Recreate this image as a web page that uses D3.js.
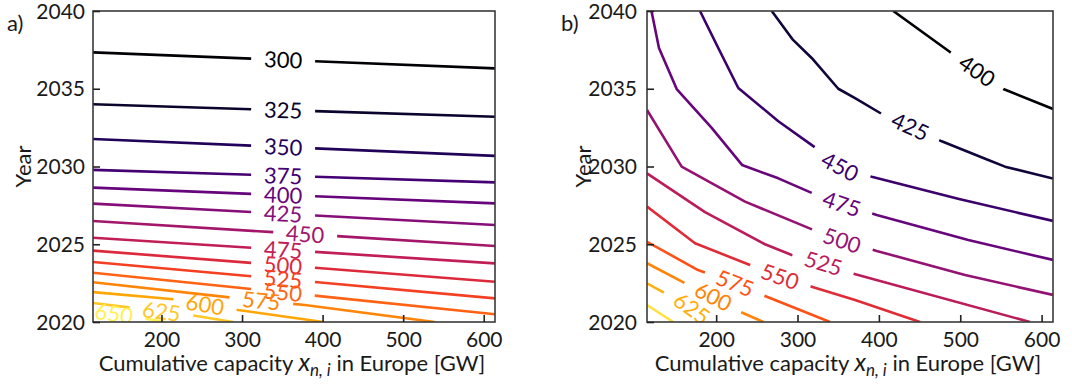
<!DOCTYPE html>
<html><head><meta charset="utf-8">
<script src="https://cdn.jsdelivr.net/npm/d3@7"></script>
<style>
html,body{margin:0;padding:0;background:#fff;}
svg{display:block;font-family:Lato,"Open Sans",sans-serif;}
</style></head><body>
<svg id="chart" width="1072" height="385"></svg>
<script>
// ---------------- data ----------------
const xDomain = [115, 614];
const yDomain = [2020, 2040];
const xTickValues = [200, 300, 400, 500, 600];
const yTickValues = [2020, 2025, 2030, 2035, 2040];
const yTitle = "Year";
const panelTags = ["a)", "b)"];

// Panel a: contour levels, their polylines [GW, year] and label anchors
const levelsA = [300, 325, 350, 375, 400, 425, 450, 475, 500, 525, 550, 575, 600, 625, 650];
const linesA = [
  [[115, 2037.34], [614, 2036.31]],
  [[115, 2034.00], [614, 2033.20]],
  [[115, 2031.77], [614, 2030.68]],
  [[115, 2029.78], [614, 2028.98]],
  [[115, 2028.64], [614, 2027.63]],
  [[115, 2027.61], [614, 2026.24]],
  [[115, 2026.50], [614, 2024.89]],
  [[115, 2025.42], [614, 2023.77]],
  [[115, 2024.59], [614, 2022.59]],
  [[115, 2023.86], [614, 2021.52]],
  [[115, 2023.17], [614, 2020.50]],
  [[115, 2022.56], [295, 2021.52], [378, 2021.09], [539, 2020.0]],
  [[115, 2021.92], [214.7, 2021.46], [295, 2020.77], [401, 2020.0]],
  [[115, 2021.22], [158.8, 2020.94], [241.6, 2020.40], [289, 2020.0]],
  [[115, 2020.75], [205, 2020.0]]
];
const labelsA = [
  [351, 2036.85], [351, 2033.65], [351, 2031.30], [351, 2029.45], [351, 2028.20],
  [351, 2027.00], [378.5, 2025.75], [351, 2024.65], [351, 2023.75], [351, 2022.80],
  [351, 2022.05], [324, 2021.40], [254, 2021.10], [200, 2020.67], [141, 2020.53]
];

// Panel b
const levelsB = [400, 425, 450, 475, 500, 525, 550, 575, 600, 625, 650];
const linesB = [
  [[417.7, 2040], [487.4, 2037.36], [553, 2034.98], [614, 2033.70]],
  [[268.3, 2040], [294.5, 2038.14], [317.4, 2036.98], [350.1, 2035.0], [370.7, 2034.4], [403.5, 2033.38],
   [438.5, 2032.57], [477.2, 2031.62], [534.5, 2030.42], [555, 2029.99], [614, 2029.23]],
  [[180.1, 2040], [202.6, 2037.62], [227.2, 2035.05], [276.4, 2032.91], [325.5, 2031.08], [352.2, 2029.99],
   [391.2, 2029.34], [498.5, 2027.91], [614, 2026.5]],
  [[120.5, 2040], [129.7, 2037.62], [151.5, 2034.98], [194.5, 2032.48], [231.8, 2030.1], [276.4, 2029.24],
   [319.4, 2028.26], [354.3, 2027.59], [397.3, 2026.88], [509.9, 2025.27], [614, 2023.99]],
  [[115, 2033.63], [157.6, 2029.99], [235.5, 2027.74], [319.4, 2025.92], [354.7, 2025.24], [397.3, 2024.57],
   [505.9, 2023.02], [614, 2021.74]],
  [[115, 2029.56], [186.3, 2027.07], [260, 2025.0], [292.9, 2024.31], [331.7, 2023.77], [367, 2023.13], [585.7, 2020.0]],
  [[115, 2027.42], [174, 2025.06], [241.6, 2023.67], [278.5, 2022.91], [317.4, 2022.27], [370.7, 2021.41], [450.5, 2020.0]],
  [[115, 2025.16], [177.7, 2023.34], [223.2, 2022.49], [260, 2021.67], [339.9, 2020.0]],
  [[115, 2023.78], [161.7, 2022.49], [196.5, 2021.63], [229.3, 2020.66], [258, 2020.0]],
  [[115, 2022.49], [137.1, 2021.85], [170, 2020.88], [186.3, 2020.0]],
  [[115, 2021.09], [147.3, 2020.0]]
];
const labelsB = [
  [520.2, 2036.12], [438.5, 2032.57], [352.2, 2029.99], [354.3, 2027.59], [354.7, 2025.24],
  [331.7, 2023.77], [278.5, 2022.91], [223.2, 2022.49], [196.5, 2021.63], [170, 2020.88], null
];

// ---------------- layout / style ----------------
const panels = [
  {box: {left: 93, right: 495, top: 11, bottom: 322}, levels: levelsA, lines: linesA, labels: labelsA,
   colorDomain: [300, 675], tag: panelTags[0], tagX: 7, yTitleX: 23, yLabPad: 8},
  {box: {left: 647, right: 1053, top: 11, bottom: 322}, levels: levelsB, lines: linesB, labels: labelsB,
   colorDomain: [400, 675], tag: panelTags[1], tagX: 561, yTitleX: 583, yLabPad: 10}
];
const GAP = 64;
const FONT = "Lato, 'Open Sans', sans-serif";
const svg = d3.select("#chart");

function vivid(c) {
  const h = d3.hsl(c);
  h.s = Math.min(1, h.s * 1.3);
  return h.formatHex();
}

function splitAtLabel(pts, lp, gap) {
  const cum = [0];
  for (let i = 1; i < pts.length; i++) {
    cum.push(cum[i - 1] + Math.hypot(pts[i][0] - pts[i - 1][0], pts[i][1] - pts[i - 1][1]));
  }
  const L = cum[cum.length - 1];
  let best = {d: Infinity};
  for (let i = 0; i < pts.length - 1; i++) {
    const [x1, y1] = pts[i], [x2, y2] = pts[i + 1];
    const dx = x2 - x1, dy = y2 - y1, len2 = dx * dx + dy * dy;
    let t = len2 ? ((lp[0] - x1) * dx + (lp[1] - y1) * dy) / len2 : 0;
    t = Math.max(0, Math.min(1, t));
    const px = x1 + t * dx, py = y1 + t * dy;
    const d = Math.hypot(px - lp[0], py - lp[1]);
    if (d < best.d) best = {d, s: cum[i] + t * Math.sqrt(len2), x: px, y: py};
  }
  const pointAt = s => {
    s = Math.max(0, Math.min(L, s));
    for (let i = 1; i < pts.length; i++) {
      if (s <= cum[i] || i === pts.length - 1) {
        const seg = cum[i] - cum[i - 1];
        const t = seg ? (s - cum[i - 1]) / seg : 0;
        return [pts[i - 1][0] + t * (pts[i][0] - pts[i - 1][0]), pts[i - 1][1] + t * (pts[i][1] - pts[i - 1][1])];
      }
    }
    return pts[pts.length - 1];
  };
  const sub = (a, b) => {
    if (b <= a) return null;
    const out = [pointAt(a)];
    for (let i = 0; i < pts.length; i++) if (cum[i] > a && cum[i] < b) out.push(pts[i]);
    out.push(pointAt(b));
    return out;
  };
  const s1 = best.s - gap / 2, s2 = best.s + gap / 2;
  const p1 = pointAt(s1), p2 = pointAt(s2);
  let ang = Math.atan2(p2[1] - p1[1], p2[0] - p1[0]) * 180 / Math.PI;
  if (ang > 90) ang -= 180;
  if (ang < -90) ang += 180;
  return {parts: [sub(0, s1), sub(s2, L)].filter(Boolean), x: best.x, y: best.y, angle: ang};
}

panels.forEach((p, pi) => {
  const b = p.box;
  const x = d3.scaleLinear().domain(xDomain).range([b.left, b.right]);
  const y = d3.scaleLinear().domain(yDomain).range([b.bottom, b.top]);
  const color = d3.scaleSequential(d3.interpolateInferno).domain(p.colorDomain);
  const g = svg.append("g");

  const clipId = "clip" + pi;
  svg.append("clipPath").attr("id", clipId).append("rect")
    .attr("x", b.left).attr("y", b.top).attr("width", b.right - b.left).attr("height", b.bottom - b.top);

  const cg = g.append("g").attr("clip-path", `url(#${clipId})`);
  const line = d3.line();
  p.levels.forEach((lev, i) => {
    const pts = p.lines[i].map(d => [x(d[0]), y(d[1])]);
    const col = vivid(color(lev));
    const lab = p.labels[i];
    if (lab) {
      const r = splitAtLabel(pts, [x(lab[0]), y(lab[1])], GAP);
      r.parts.forEach(part => {
        cg.append("path").attr("d", line(part)).attr("fill", "none")
          .attr("stroke", col).attr("stroke-width", 2.6).attr("stroke-linejoin", "round");
      });
      cg.append("text").attr("transform", `translate(${r.x},${r.y}) rotate(${r.angle})`)
        .attr("text-anchor", "middle").attr("dy", "0.36em")
        .attr("font-family", FONT).attr("font-size", 22).attr("fill", col).text(lev);
    } else {
      cg.append("path").attr("d", line(pts)).attr("fill", "none")
        .attr("stroke", col).attr("stroke-width", 2.6);
    }
  });

  // frame
  g.append("rect").attr("x", b.left).attr("y", b.top).attr("width", b.right - b.left)
    .attr("height", b.bottom - b.top).attr("fill", "none").attr("stroke", "#3a3a3a").attr("stroke-width", 1.6);

  // axes (ticks inward)
  const xAxis = d3.axisBottom(x).tickValues(xTickValues).tickSizeInner(-7).tickSizeOuter(0);
  const yAxis = d3.axisLeft(y).tickValues(yTickValues).tickSizeInner(-7).tickSizeOuter(0)
    .tickFormat(d3.format("d"));
  const gx = g.append("g").attr("transform", `translate(0,${b.bottom})`).call(xAxis);
  const gy = g.append("g").attr("transform", `translate(${b.left},0)`).call(yAxis);
  [gx, gy].forEach(a => {
    a.select(".domain").remove();
    a.selectAll("line").attr("stroke", "#222").attr("stroke-width", 1.6);
    a.selectAll("text").attr("font-family", FONT).attr("font-size", 21).attr("fill", "#1a1a1a");
  });
  gx.selectAll("text").attr("y", 10).attr("dy", "0.71em");
  gy.selectAll("text").attr("x", -p.yLabPad).attr("dy", "0.34em");

  // x title
  const xt = g.append("text").attr("x", (b.left + b.right) / 2 - 2).attr("y", 371)
    .attr("text-anchor", "middle").attr("font-family", FONT).attr("font-size", 22).attr("fill", "#1a1a1a");
  xt.append("tspan").text("Cumulative capacity ");
  xt.append("tspan").attr("font-style", "italic").attr("font-size", 25).text("x");
  xt.append("tspan").attr("font-style", "italic").attr("font-size", 17).attr("dy", 5).text("n, i");
  xt.append("tspan").attr("dy", -5).text(" in Europe [GW]");

  // y title
  g.append("text").attr("transform", `translate(${p.yTitleX},${(b.top + b.bottom) / 2}) rotate(-90)`)
    .attr("text-anchor", "middle").attr("dy", "0.35em").attr("font-family", FONT)
    .attr("font-size", 22).attr("fill", "#1a1a1a").text(yTitle);

  // panel tag
  g.append("text").attr("x", p.tagX).attr("y", 31).attr("font-family", FONT)
    .attr("font-size", 22).attr("fill", "#1a1a1a").text(p.tag);
});
</script>
</body></html>
